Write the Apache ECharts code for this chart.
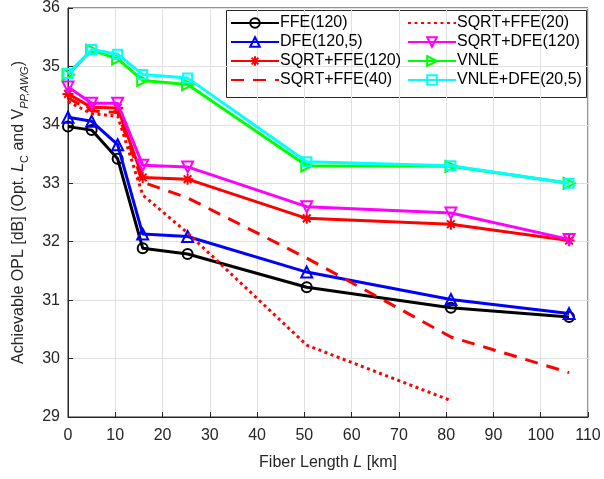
<!DOCTYPE html>
<html><head><meta charset="utf-8">
<script src="https://cdn.jsdelivr.net/npm/echarts@6/dist/echarts.min.js"></script>
<style>html,body{margin:0;padding:0;background:#fff}#c{width:604px;height:479px}</style>
</head><body><div id="c"></div>
<script>
const fiberLength = [0, 5, 10.5, 15.8, 25.3, 50.5, 81, 106];
const ffe120 = [33.97, 33.91, 33.42, 31.89, 31.79, 31.22, 30.87, 30.71];
const dfe120_5 = [34.13, 34.06, 33.66, 32.13, 32.09, 31.48, 31.01, 30.77];
const sqrtFfe120 = [34.53, 34.3, 34.29, 33.1, 33.07, 32.4, 32.3, 32.02];
const sqrtFfe40 = [34.46, 34.24, 34.21, 33.02, 32.75, 31.72, 30.37, 29.76];
const sqrtFfe20 = [34.4, 34.19, 34.15, 32.8, 32.15, 30.23, 29.28];
const sqrtDfe120 = [34.65, 34.37, 34.37, 33.31, 33.28, 32.6, 32.49, 32.04];
const vnle = [34.86, 35.28, 35.13, 34.76, 34.69, 33.3, 33.29, 33.0];
const vnleDfe20_5 = [34.88, 35.29, 35.21, 34.86, 34.8, 33.37, 33.3, 33.0];
const xTicks = [0,10,20,30,40,50,60,70,80,90,100,110];
const yTicks = [29,30,31,32,33,34,35,36];

const names = ['FFE(120)','DFE(120,5)','SQRT+FFE(120)','SQRT+FFE(40)','SQRT+FFE(20)','SQRT+DFE(120)','VNLE','VNLE+DFE(20,5)'];
const values = [ffe120, dfe120_5, sqrtFfe120, sqrtFfe40, sqrtFfe20, sqrtDfe120, vnle, vnleDfe20_5];
const colors = ['#000000','#0000ff','#ff0000','#ff0000','#ff0000','#ff00ff','#00ff00','#00ffff'];
const symbols = ['circle','triangle','path://M0,-10L0,10M-10,0L10,0M-7,-7L7,7M-7,7L7,-7','none','none','triangle','triangle','rect'];
const rotations = [0,0,0,0,0,180,-90,0];
const dashes = ['solid','solid','solid',[13,9],[3,3.5],'solid','solid','solid'];
const sizes = [10,11,11,0,0,11,11,9];

function pairs(v){ return v.map((y,i)=>[fiberLength[i], y]); }

const series = names.map((n,i)=>({
  name:n, type:'line', data:pairs(values[i]),
  symbol: symbols[i], symbolSize: sizes[i], symbolRotate: rotations[i],
  showSymbol: symbols[i] !== 'none',
  lineStyle:{color:colors[i], width:3, type:dashes[i]},
  itemStyle:{color:'rgba(255,255,255,0)', borderColor:colors[i], borderWidth:2},
  emphasis:{disabled:true}, animation:false, z: 2+i
}));

function legendItems(list){
  return list.map(n => {
    const i = names.indexOf(n);
    return symbols[i] === 'none' ? {name:n, itemStyle:{opacity:0}} : {name:n};
  });
}

const txt = '#262626';
const font = 'Liberation Sans, Arial';
const chart = echarts.init(document.getElementById('c'), null, {renderer:'canvas'});
const legendCommon = {
  orient:'vertical', itemWidth:48, itemHeight:12, itemGap:3,
  textStyle:{fontSize:16, color:'#000', fontFamily:font, padding:[0,0,0,-4]},
  inactiveColor:'#000', selectedMode:false, padding:0
};
chart.setOption({
  animation:false,
  grid:{left:68, right:16, top:8, bottom:62, show:true, borderColor:txt, borderWidth:1, backgroundColor:'#fff'},
  legend:[
    Object.assign({left:230, top:15, data:legendItems(names.slice(0,4))}, legendCommon),
    Object.assign({left:407, top:15, data:legendItems(names.slice(4))}, legendCommon)
  ],
  graphic:[{type:'rect', left:226, top:10, shape:{width:360, height:87}, style:{fill:'#fff', stroke:'#262626', lineWidth:1}, z:0, zlevel:0}],
  xAxis:{type:'value', min:0, max:110, interval:10,
    name:'{n|Fiber Length }{i|L}{n| [km]}', nameLocation:'middle', nameGap:38,
    nameTextStyle:{rich:{n:{fontSize:16,color:txt,fontFamily:font}, i:{fontSize:16,color:txt,fontStyle:'italic',fontFamily:font}}},
    axisLine:{show:true, lineStyle:{color:txt}}, axisTick:{inside:true, length:5, lineStyle:{color:txt}},
    axisLabel:{fontSize:16, color:txt, fontFamily:font, margin:11},
    splitLine:{show:true, lineStyle:{color:'#e0e0e0'}}},
  yAxis:{type:'value', min:29, max:36, interval:1,
    name:'{n|Achievable OPL [dB] (Opt. }{i|L}{s|C}{n| and V}{si|PP,AWG}{n|)}', nameLocation:'middle', nameGap:38,
    nameTextStyle:{rich:{
      n:{fontSize:16,color:txt,fontFamily:font,lineHeight:22,verticalAlign:'middle'},
      i:{fontSize:16,color:txt,fontStyle:'italic',fontFamily:font,lineHeight:22,verticalAlign:'middle'},
      s:{fontSize:11,color:txt,fontFamily:font,lineHeight:22,verticalAlign:'bottom',padding:[8,0,0,0]},
      si:{fontSize:11,color:txt,fontStyle:'italic',fontFamily:font,lineHeight:22,verticalAlign:'bottom',padding:[8,0,0,0]}}},
    axisLine:{show:true, lineStyle:{color:txt}}, axisTick:{inside:true, length:5, lineStyle:{color:txt}},
    axisLabel:{fontSize:16, color:txt, fontFamily:font, margin:8},
    splitLine:{show:true, lineStyle:{color:'#e0e0e0'}}},
  series: series
});
</script></body></html>
